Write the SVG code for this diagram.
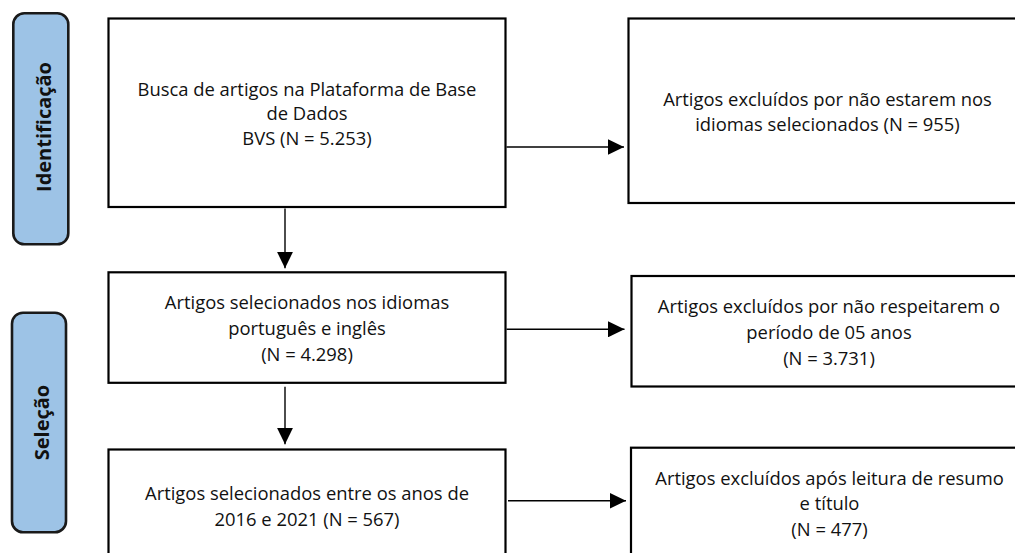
<svg xmlns="http://www.w3.org/2000/svg" width="1015" height="553" viewBox="0 0 1015 553">
<style>
.box{fill:#ffffff;stroke:#000000;stroke-width:2.2}
.pill{fill:#9dc3e6;stroke:#1a1a1a;stroke-width:2.6}
.t{font-family:"Open Sans","Noto Sans","Liberation Sans",sans-serif;font-size:18.4px;fill:#111111;text-anchor:middle}
.lab{font-family:"Open Sans","Noto Sans","Liberation Sans",sans-serif;font-size:20px;font-weight:bold;fill:#111111;text-anchor:middle}
.ln{stroke:#000000;stroke-width:1.4;fill:none}
.ah{fill:#000000}
</style>
<defs>
<marker id="arr" markerUnits="userSpaceOnUse" markerWidth="17" markerHeight="16" refX="16.5" refY="8" orient="auto">
<path class="ah" d="M0,0 L16.5,8 L0,16 Z"/>
</marker>
</defs>
<rect width="1015" height="553" fill="#ffffff"/>

<g id="phase-identificacao">
<rect class="pill" x="13.3" y="13.3" width="55" height="231" rx="11"/>
<text class="lab" transform="translate(50.5,127) rotate(-90)">Identificação</text>
</g>
<g id="phase-selecao">
<rect class="pill" x="12" y="312.7" width="54" height="219.5" rx="11"/>
<text class="lab" transform="translate(48.5,422.5) rotate(-90)">Seleção</text>
</g>

<g id="node-busca">
<rect class="box" x="108.5" y="18.5" width="397" height="188.5"/>
<text class="t" x="307" y="95.7">Busca de artigos na Plataforma de Base</text>
<text class="t" x="307" y="120.3">de Dados</text>
<text class="t" x="307" y="145">BVS (N = 5.253)</text>
</g>
<g id="node-idiomas">
<rect class="box" x="108.5" y="272.3" width="397" height="110.5"/>
<text class="t" x="307" y="309.3">Artigos selecionados nos idiomas</text>
<text class="t" x="307" y="334.8">português e inglês</text>
<text class="t" x="307" y="360.5">(N = 4.298)</text>
</g>
<g id="node-anos">
<rect class="box" x="108.5" y="449.5" width="397" height="200"/>
<text class="t" x="307" y="500">Artigos selecionados entre os anos de</text>
<text class="t" x="307" y="526">2016 e 2021 (N = 567)</text>
</g>
<g id="node-excl-idiomas">
<rect class="box" x="628.5" y="18.5" width="400" height="184.5"/>
<text class="t" x="827.5" y="105.8">Artigos excluídos por não estarem nos</text>
<text class="t" x="827.5" y="131.2">idiomas selecionados (N = 955)</text>
</g>
<g id="node-excl-periodo">
<rect class="box" x="631.5" y="276" width="400" height="110.5"/>
<text class="t" x="829" y="313.2">Artigos excluídos por não respeitarem o</text>
<text class="t" x="829" y="339.3">período de 05 anos</text>
<text class="t" x="829" y="365.1">(N = 3.731)</text>
</g>
<g id="node-excl-resumo">
<rect class="box" x="631" y="447.7" width="400" height="200"/>
<text class="t" x="829.5" y="484.5">Artigos excluídos após leitura de resumo</text>
<text class="t" x="829.5" y="510.4">e título</text>
<text class="t" x="829.5" y="536.2">(N = 477)</text>
</g>

<g id="connectors">
<line class="ln" x1="285" y1="208.5" x2="285" y2="268.3" marker-end="url(#arr)"/>
<line class="ln" x1="285" y1="386.7" x2="285" y2="444.3" marker-end="url(#arr)"/>
<line class="ln" x1="506.5" y1="147" x2="624" y2="147" marker-end="url(#arr)"/>
<line class="ln" x1="506.5" y1="329.3" x2="624.5" y2="329.3" marker-end="url(#arr)"/>
<line class="ln" x1="508" y1="500.8" x2="626" y2="500.8" marker-end="url(#arr)"/>
</g>
</svg>
